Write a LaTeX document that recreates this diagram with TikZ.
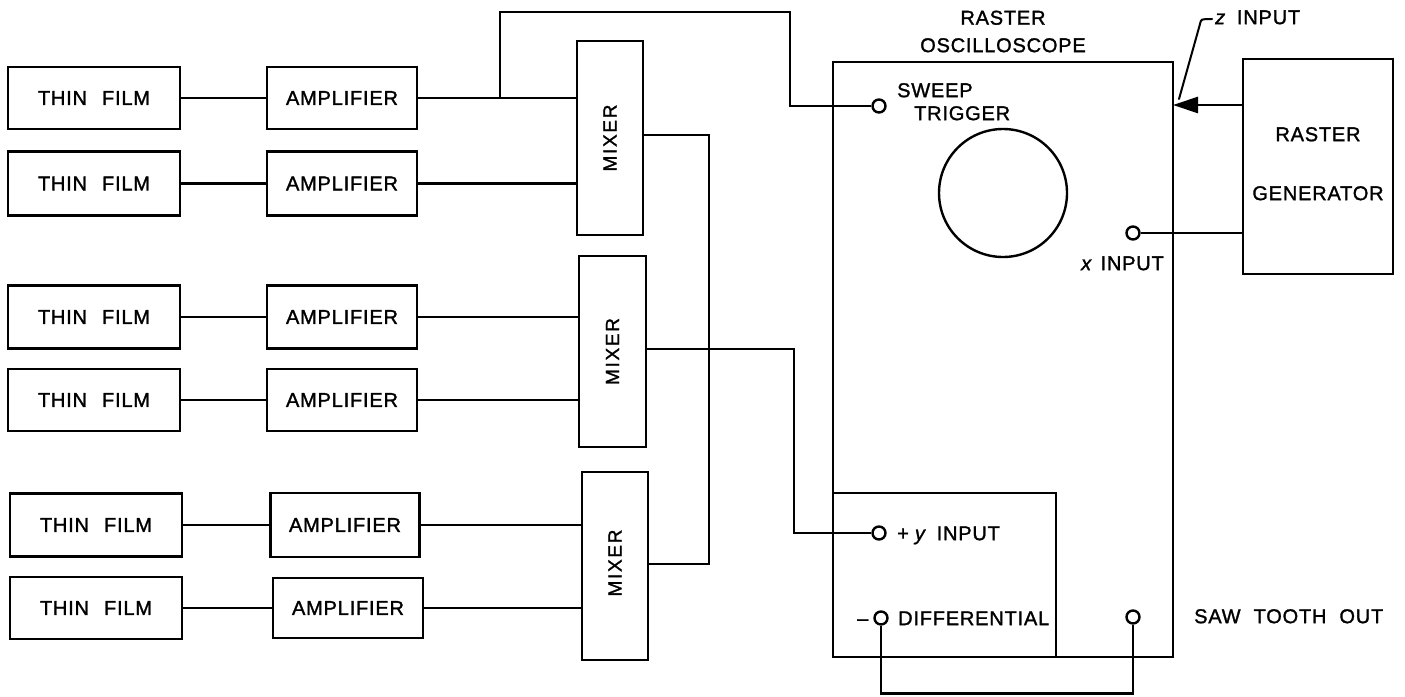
\documentclass[tikz,border=0pt]{standalone}
\usepackage{fontspec}
\setmainfont{Liberation Sans}[LetterSpace=4,FakeBold=1.4]
\usetikzlibrary{arrows.meta}
\begin{document}
\begin{tikzpicture}[x=1pt,y=-1pt,
  box/.style={draw, line width=2.8pt, inner sep=0pt, font=\fontsize{20}{22}\selectfont},
  lbl/.style={inner sep=0pt, text height=14.3pt, text depth=0pt, font=\fontsize{20}{22}\selectfont},
  port/.style={circle, draw, line width=2.4pt, minimum size=13pt, inner sep=0pt, fill=white},
  wire/.style={line width=2.8pt},
  leader/.style={line width=2pt, line cap=round},
  mixtext/.style={rotate=90, font=\fontsize{19}{22}\selectfont\addfontfeature{LetterSpace=9}}]
\useasboundingbox (0,0) rectangle (1405,696);

% thin film boxes
\node[box, minimum width=172pt, minimum height=62pt] (tf1) at (94,98) {THIN\hspace{15pt}FILM};
\node[box, minimum width=172pt, minimum height=64pt] (tf2) at (94,183.5) {THIN\hspace{15pt}FILM};
\node[box, minimum width=172pt, minimum height=63pt] (tf3) at (94,317) {THIN\hspace{15pt}FILM};
\node[box, minimum width=172pt, minimum height=62pt] (tf4) at (94,400) {THIN\hspace{15pt}FILM};
\node[box, minimum width=172pt, minimum height=63pt] (tf5) at (96,525) {THIN\hspace{15pt}FILM};
\node[box, minimum width=172pt, minimum height=62pt] (tf6) at (96,608) {THIN\hspace{15pt}FILM};

% amplifiers
\node[box, minimum width=150pt, minimum height=62pt] (amp1) at (342,98) {AMPLIFIER};
\node[box, minimum width=150pt, minimum height=64pt] (amp2) at (342,183.5) {AMPLIFIER};
\node[box, minimum width=150pt, minimum height=63pt] (amp3) at (342,317) {AMPLIFIER};
\node[box, minimum width=150pt, minimum height=62pt] (amp4) at (342,400) {AMPLIFIER};
\node[box, minimum width=149pt, minimum height=64pt] (amp5) at (345,525) {AMPLIFIER};
\node[box, minimum width=150pt, minimum height=60pt] (amp6) at (348,608) {AMPLIFIER};

% mixers
\node[box, minimum width=66pt, minimum height=194pt] (m1) at (610,138) {};
\node[mixtext] (m1t) at (m1.center) {MIXER};
\node[box, minimum width=67pt, minimum height=191pt] (m2) at (612.5,351.5) {};
\node[mixtext] (m2t) at (m2.center) {MIXER};
\node[box, minimum width=66pt, minimum height=188pt] (m3) at (615,566) {};
\node[mixtext] (m3t) at ([yshift=3pt]m3.center) {MIXER};

% oscilloscope
\node[box, minimum width=340pt, minimum height=595pt] (osc) at (1003,359.5) {};
\node[box, minimum width=223pt, minimum height=164pt] (diffbox) at (944.5,575) {};
\node[draw, circle, line width=2.4pt, minimum size=128pt, inner sep=0pt] (screen) at (1003,193) {};
\node[lbl] (title1) at (1003,17.5) {RASTER};
\node[lbl] (title2) at (1003,45) {OSCILLOSCOPE};

% raster generator
\node[box, minimum width=150pt, minimum height=215pt] (gen) at (1318,166.5) {};
\node[lbl] (gent1) at (1318,134) {RASTER};
\node[lbl] (gent2) at (1318,193) {GENERATOR};

% ports
\node[port] (sw) at (879,106) {};
\node[port] (xin) at (1133,233) {};
\node[port] (yin) at (879,533) {};
\node[port] (dif) at (881,618) {};
\node[port] (saw) at (1133,617) {};

% labels
\node[lbl, anchor=west] (swl1) at (897,90) {SWEEP};
\node[lbl, anchor=west] (swl2) at (914,113) {TRIGGER};
\node[lbl, anchor=west] (xl) at (1081,263) {\textit{x}\hspace{8pt}INPUT};
\node[lbl, anchor=west] (yl) at (897,533) {+\hspace{6pt}\textit{y}\hspace{10pt}INPUT};
\node[lbl, anchor=west] (mn) at (857,618) {–};
\node[lbl, anchor=west] (dl) at (898,618) {DIFFERENTIAL};
\node[lbl, anchor=west] (sl) at (1194,616) {SAW\hspace{13pt}TOOTH\hspace{13pt}OUT};
\node[lbl, anchor=west] (zl) at (1215,17) {\textit{z}\hspace{11pt}INPUT};

% coordinates
\coordinate (j1) at (500,98);
\coordinate (m1o) at (643,135);
\coordinate (m2o) at (646,349);
\coordinate (m3o) at (648,564);
\coordinate (zsrc) at (1243,105);
\coordinate (zin) at (1173,105);
\coordinate (zlead) at (1179,99);
\coordinate (zhook) at (1212,19);

% wires thin film -> amplifier
\foreach \i in {1,...,6} {\draw[wire] (tf\i) -- (amp\i);}
% amplifier -> mixer
\draw[wire] (amp1.east) -- (amp1.east -| m1.west);
\draw[wire] (amp2.east) -- (amp2.east -| m1.west);
\draw[wire] (amp3.east) -- (amp3.east -| m2.west);
\draw[wire] (amp4.east) -- (amp4.east -| m2.west);
\draw[wire] (amp5.east) -- (amp5.east -| m3.west);
\draw[wire] (amp6.east) -- (amp6.east -| m3.west);

% sweep trigger
\draw[wire] (j1) -- ++(0,-86) -- ++(290,0) |- (sw.west);
% mixer 1 to mixer 3
\draw[wire] (m1o) -- ++(66,0) |- (m3o);
% mixer 2 to +y input
\draw[wire] (m2o) -- ++(148,0) |- (yin.west);
% x input
\draw[wire] (xin.east) -- (gen.west |- xin);
% z input
\draw[wire, -{Triangle[length=25pt,width=16pt]}] (zsrc) -- (zin);
\draw[leader] (zlead) -- (1200,24) .. controls (1201,19) .. (zhook);
% differential to saw tooth
\draw[wire] (dif.south) -- ++(0,68) -| (saw.south);
\end{tikzpicture}
\end{document}
